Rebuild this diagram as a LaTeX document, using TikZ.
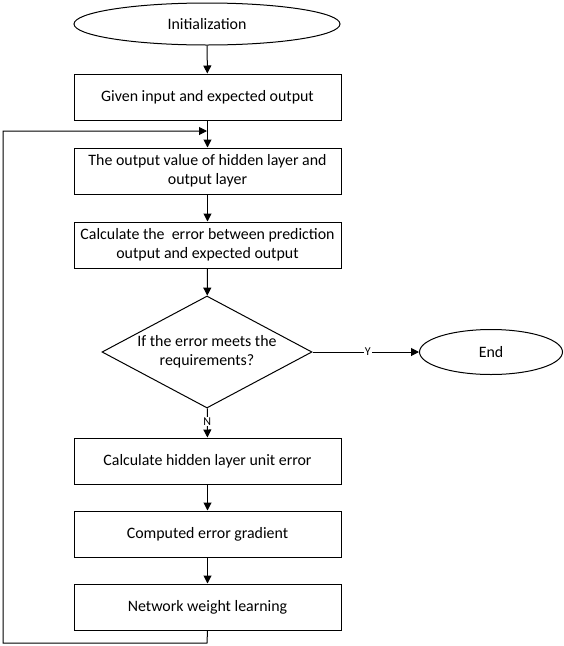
\documentclass[tikz,border=0pt]{standalone}
\usepackage{fontspec}
\setmainfont{Carlito}
\usetikzlibrary{shapes.geometric,arrows.meta}
\begin{document}
\begin{tikzpicture}[x=1pt,y=-1pt,
  every node/.style={font=\fontsize{15.9}{19.5}\selectfont, align=center, inner sep=0pt},
  procbox/.style={draw, line width=1pt, minimum width=267pt, minimum height=46pt},
  term/.style={draw, line width=1pt, ellipse},
  decide/.style={draw, line width=1pt, diamond, minimum width=210pt, minimum height=112pt, aspect=1.875},
  arr/.style={line width=1pt, -{Triangle[width=8pt,length=8pt]}},
  lbl/.style={fill=white, inner sep=1pt, font=\fontsize{12}{14}\selectfont}]
\useasboundingbox (0,0) rectangle (564,646);
\node[term, minimum width=266pt, minimum height=42pt] (init) at (207,24) {Initialization};
\node[procbox] (given) at (207.5,97) {Given input and expected output};
\node[procbox] (hidden) at (207.5,171) {The output value of hidden layer and\\output layer};
\node[procbox] (calc) at (207.5,245) {Calculate the\ \ error between prediction\\output and expected output};
\node[decide] (dec) at (207,352) {If the error meets the\\requirements?};
\node[term, minimum width=143pt, minimum height=45pt] (endn) at (491,352) {End};
\node[procbox] (hue) at (207.5,461) {Calculate hidden layer unit error};
\node[procbox] (grad) at (207.5,534) {Computed error gradient};
\node[procbox] (learn) at (207.5,607) {Network weight learning};
\coordinate (lb) at (207,643);
\coordinate (ll) at (3,643);
\coordinate (lt) at (3,131);
\coordinate (lm) at (207,131);
\draw[arr] (init) -- (given);
\draw[arr] (given) -- (hidden);
\draw[arr] (hidden) -- (calc);
\draw[arr] (calc) -- (dec);
\draw[arr] (dec) -- node[lbl, pos=0.52] {Y} (endn);
\draw[arr] (dec) -- node[lbl, pos=0.45] {N} (hue);
\draw[arr] (hue) -- (grad);
\draw[arr] (grad) -- (learn);
\draw[arr] (learn.south) -- (lb) -- (ll) -- (lt) -- (lm);
\end{tikzpicture}
\end{document}
